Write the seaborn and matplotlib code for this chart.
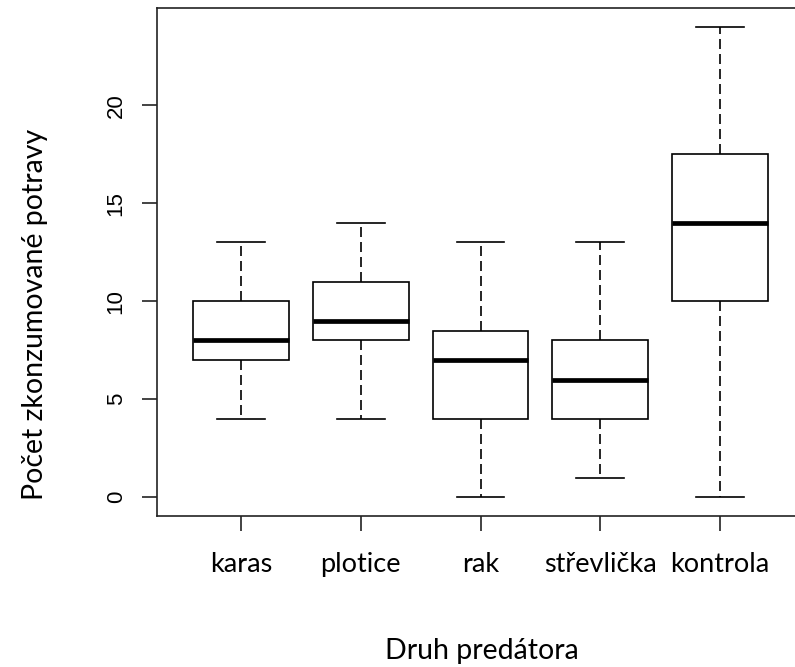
import numpy as np
import pandas as pd
import matplotlib
matplotlib.use("Agg")
import matplotlib.pyplot as plt
import seaborn as sns

# ── Data (five-number summaries) ─────────────────────────────────────────────
predators = ["karas", "plotice", "rak", "střevlička", "kontrola"]
minimum   = [4, 4, 0, 1, 0]
q1        = [7, 8, 4, 4, 10]
median    = [8, 9, 7, 6, 14]
q3        = [10, 11, 8.5, 8, 17.5]
maximum   = [13, 14, 13, 13, 24]

# five points per group -> linear quantiles hit exactly min / q1 / med / q3 / max
rows = []
for i, name in enumerate(predators):
    for v in (minimum[i], q1[i], median[i], q3[i], maximum[i]):
        rows.append({"predator": name, "value": v})
df = pd.DataFrame(rows)

# ── Plot ─────────────────────────────────────────────────────────────────────
plt.rcParams["font.family"] = ["Lato", "DejaVu Sans"]

fig = plt.figure(figsize=(7.95, 6.67), dpi=100)
ax = fig.add_axes([157 / 795, 1 - 516 / 667, 647 / 795, 508 / 667])

sns.boxplot(
    data=df, x="predator", y="value", order=predators, ax=ax,
    color="white", saturation=1, linecolor="black", linewidth=1.2,
    width=0.8, whis=(0, 100), showfliers=False,
    medianprops=dict(linewidth=3.4, color="black"),
    whiskerprops=dict(linestyle=(0, (6, 3)), linewidth=1.2),
    capprops=dict(linewidth=1.2),
)

ax.set_xlim(-0.7, 4.7)
ax.set_ylim(-0.96, 24.96)
ax.set_yticks([0, 5, 10, 15, 20])

for side in ("top", "bottom", "left", "right"):
    ax.spines[side].set_linewidth(1.2)
    ax.spines[side].set_color("#222222")

ax.tick_params(axis="both", length=10.8, width=1.2, color="#222222")
ax.tick_params(axis="x", pad=15, labelsize=19.5)
ax.tick_params(axis="y", pad=11, labelrotation=90, labelsize=16,
               labelfontfamily="Liberation Sans")
for lab in ax.get_yticklabels():
    lab.set_va("center")

ax.set_xlabel("Druh predátora", fontsize=20.5)
ax.set_ylabel("Počet zkonzumované potravy", fontsize=20.5)
ax.xaxis.set_label_coords(0.502, (516 - 638) / 508, transform=ax.transAxes)
ax.xaxis.label.set_va("top")
ax.yaxis.set_label_coords((48 - 157) / 647, (516 - 314) / 508)

fig.savefig("out.png", dpi=100)
